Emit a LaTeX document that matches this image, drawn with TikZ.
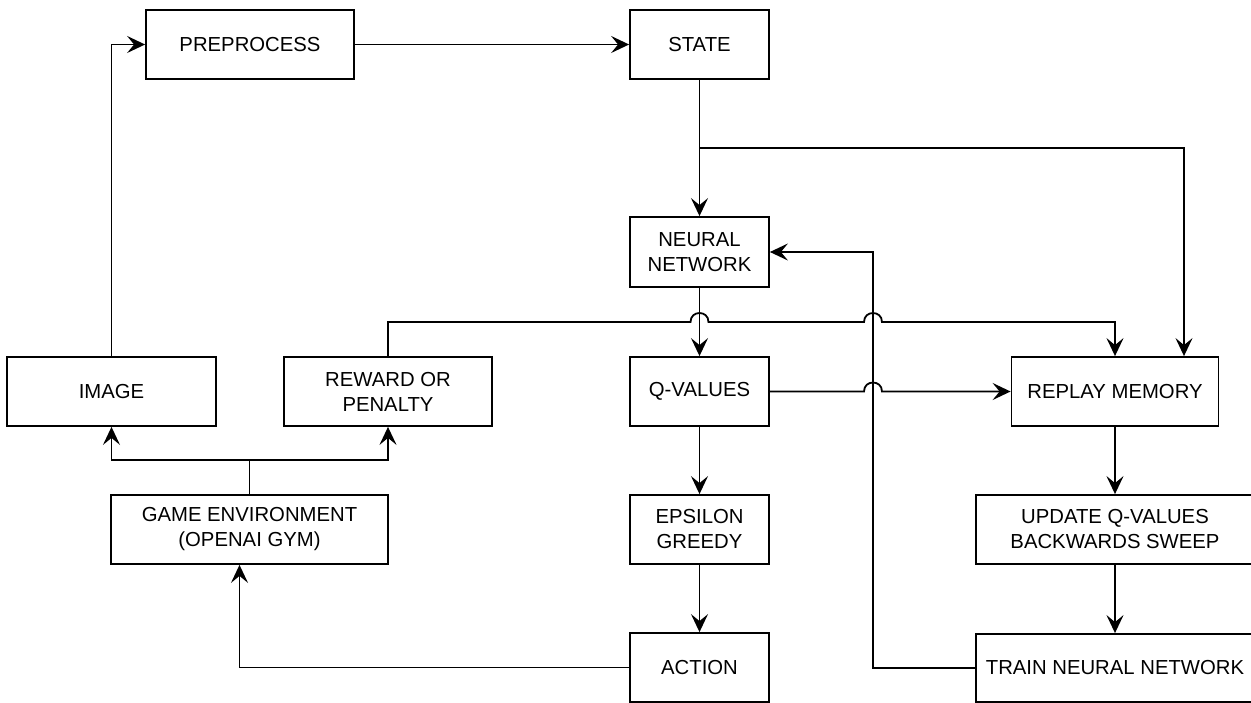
\documentclass[tikz,border=0pt]{standalone}
\usepackage{fontspec}
\setmainfont{Liberation Sans}
\usetikzlibrary{arrows.meta}
\begin{document}
\begin{tikzpicture}[x=1pt,y=-1pt,
  box/.style={draw, line width=1.8pt, align=center, inner sep=0pt,
              minimum width=139pt, minimum height=69pt,
              font=\fontsize{20.3}{25}\selectfont},
  link/.style={line width=1.8pt, -{Stealth[length=18pt,width=17pt,inset=7pt]}},
  wire/.style={line width=1.8pt}]
\useasboundingbox (0,0) rectangle (1251,703);

% boxes
\node[box, minimum width=208pt] (pre)   at (250,44.5)    {PREPROCESS};
\node[box]                      (state) at (699.5,44.5)  {STATE};
\node[box, minimum height=70pt] (nn)    at (699.5,252)   {NEURAL\\NETWORK};
\node[box, minimum width=209pt] (img)   at (111.5,391.5) {IMAGE};
\node[box, minimum width=208pt] (rew)   at (388,391.5)   {REWARD OR\\PENALTY};
\node[box]                      (q)     at (699.5,391.5) {Q-VALUES};
\node[box, minimum width=207pt] (rep)   at (1115,391.5)  {REPLAY MEMORY};
\node[box, minimum width=277pt] (game)  at (249.5,529.5) {GAME ENVIRONMENT\\(OPENAI GYM)};
\node[box]                      (eps)   at (699.5,529.5) {EPSILON\\GREEDY};
\node[box, minimum width=278pt] (upd)   at (1115,529.5)  {UPDATE Q-VALUES\\BACKWARDS SWEEP};
\node[box]                      (act)   at (699.5,667.5) {ACTION};
\node[box, minimum width=278pt, minimum height=68pt] (train) at (1115,668) {TRAIN NEURAL NETWORK};

% junction points
\coordinate (sb) at (699.5,148);
\coordinate (gb) at (249.5,460);

% main chain
\draw[link] (pre.east) -- (state.west);
\draw[link] (state.south) -- (nn.north);
\draw[link] (sb) -| ([xshift=69pt]rep.north);
\draw[link] (nn.south) -- (q.north);
\draw[link] (q.south) -- (eps.north);
\draw[link] (eps.south) -- (act.north);
\draw[link] (rep.south) -- (upd.north);
\draw[link] (upd.south) -- (train.north);

% environment loop
\draw[link] (act.west) -| ([xshift=-10pt]game.south);
\draw[wire] (game.north) -- (gb);
\draw[link] (gb) -| (img.south);
\draw[link] (gb) -| (rew.south);
\draw[link] (img.north) |- (pre.west);

% training loop back to the network
\draw[link] (train.west) -| (873,252) -- (nn.east);

% reward into replay memory, hopping over two vertical lines
\draw[link] (rew.north) |- (690.5,322)
  .. controls (690.5,310) and (708.5,310) .. (708.5,322)
  -- (864,322)
  .. controls (864,310) and (882,310) .. (882,322)
  -| (rep.north);

% q-values into replay memory, hopping over the training line
\draw[link] (q.east) -- (864,391.5)
  .. controls (864,379.5) and (882,379.5) .. (882,391.5)
  -- (rep.west);
\end{tikzpicture}
\end{document}
